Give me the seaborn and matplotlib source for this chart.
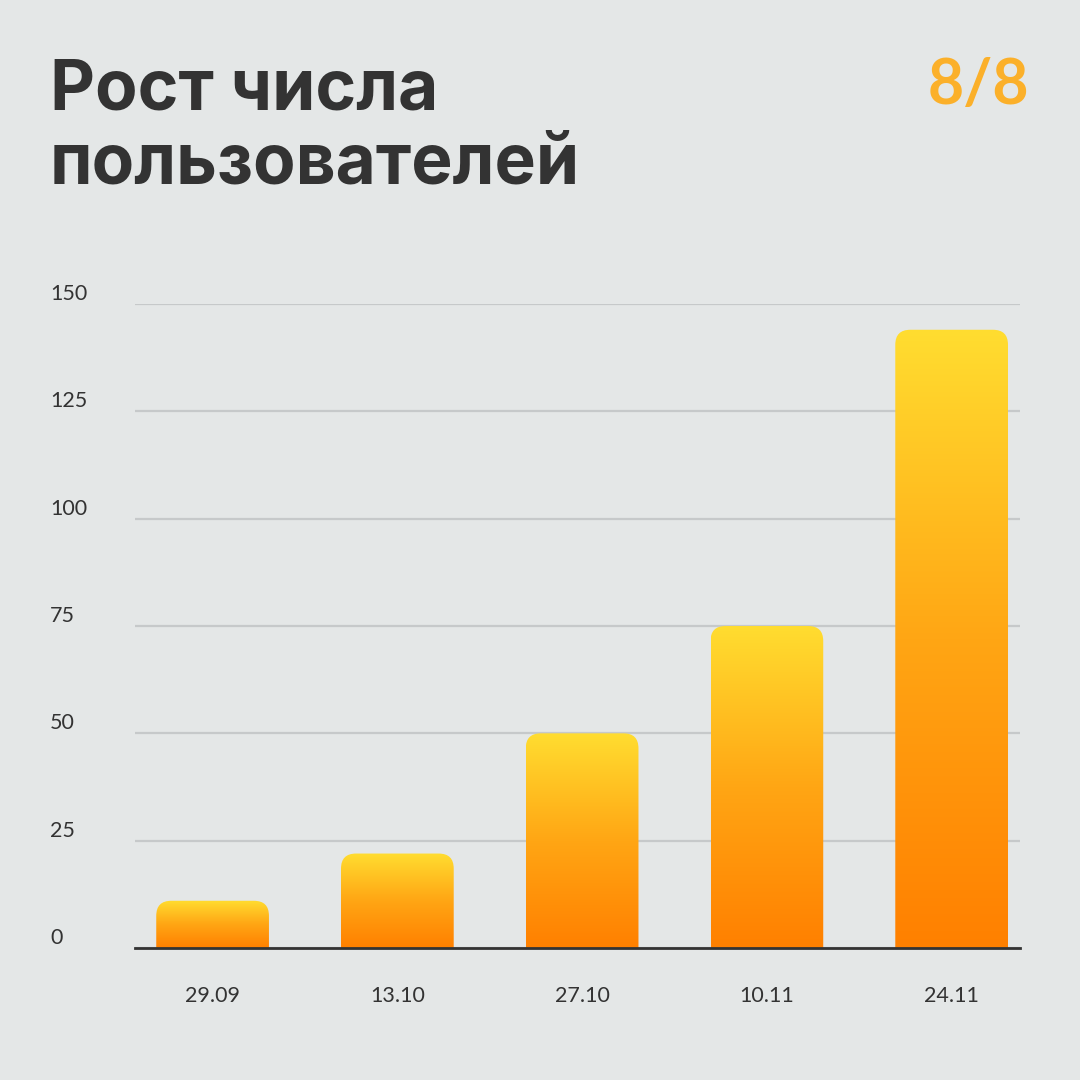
import numpy as np
import matplotlib
matplotlib.use("Agg")
import matplotlib.pyplot as plt
import matplotlib.transforms as mtransforms
from matplotlib.patches import FancyBboxPatch
from matplotlib.colors import LinearSegmentedColormap
import seaborn as sns
import pandas as pd

dates = ["29.09", "13.10", "27.10", "10.11", "24.11"]
users = [11, 22, 50, 75, 144]
yticks = [0, 25, 50, 75, 100, 125, 150]

BG = "#e4e7e7"
TXT = "#333333"

sns.set_theme(style="white")
plt.rcParams["font.family"] = ["Lato", "DejaVu Sans"]

fig = plt.figure(figsize=(10.8, 10.8), dpi=100, facecolor=BG)
ax = fig.add_axes([135/1080, 1 - 948/1080, (1020-135)/1080, (948-304)/1080])
ax.set_facecolor(BG)

df = pd.DataFrame({"date": dates, "users": users})
sns.barplot(data=df, x="date", y="users", ax=ax, width=0.61, color="#ff9000")

ax.set_xlim(-0.42, 4.37)
ax.set_ylim(0, 150)

for s in ["left", "right", "top"]:
    ax.spines[s].set_visible(False)
ax.spines["bottom"].set_color(TXT)
ax.spines["bottom"].set_linewidth(2)
ax.spines["bottom"].set_zorder(5)

ax.set_yticks(yticks)
ax.set_yticklabels([])
ax.grid(axis="y", color="#c6c9ca", linewidth=1.6)
ax.set_axisbelow(True)
ax.set_xlabel("")
ax.set_ylabel("")
ax.tick_params(axis="both", length=0, labelsize=15.5, labelcolor=TXT)
ax.tick_params(axis="x", pad=27)

# y tick labels: left aligned at x=50 px, slightly above gridlines
ytrans = mtransforms.blended_transform_factory(fig.transFigure, ax.transData) + \
    mtransforms.ScaledTranslation(0, 10 / 100, fig.dpi_scale_trans)
for t in yticks:
    ax.text(50 / 1080, t, str(t), transform=ytrans, ha="left", va="center",
            fontsize=15.5, color=TXT, clip_on=False)

fig.canvas.draw()

# gradient bars with rounded tops
cmap = LinearSegmentedColormap.from_list("g", ["#ff8000", "#ffa614", "#ffdd30"])
grad = np.linspace(0, 1, 256).reshape(-1, 1)
xpp = 1 / (ax.transData.transform((1, 0))[0] - ax.transData.transform((0, 0))[0])
ypp = 1 / (ax.transData.transform((0, 1))[1] - ax.transData.transform((0, 0))[1])
r_px = 15
for p in list(ax.patches):
    x0 = p.get_x(); w = p.get_width(); h = p.get_height()
    p.remove()
    rx = r_px * xpp
    aspect = ypp / xpp
    box = FancyBboxPatch((x0, -r_px * ypp * 2), w, h + r_px * ypp * 2,
                         boxstyle=f"round,pad=0,rounding_size={rx}",
                         mutation_aspect=aspect, facecolor="none", edgecolor="none",
                         transform=ax.transData)
    ax.add_patch(box)
    im = ax.imshow(grad, cmap=cmap, aspect="auto", origin="lower",
                   extent=(x0, x0 + w, 0, h), zorder=3, interpolation="bilinear")
    im.set_clip_path(box)
ax.set_xlim(-0.42, 4.37)
ax.set_ylim(0, 150)

# title
tfam = ["Inter", "Roboto", "DejaVu Sans"]
fig.text(50/1080, 1 - 110/1080, "Рост числа", fontsize=50, fontweight="bold",
         color=TXT, family=tfam, va="baseline", ha="left")
fig.text(50/1080, 1 - 183/1080, "пользователей", fontsize=50, fontweight="bold",
         color=TXT, family=tfam, va="baseline", ha="left")
fig.text(1029/1080, 1 - 104/1080, "8/8", fontsize=45, fontweight="bold",
         color="#fbb02a", family=["Lato", "DejaVu Sans"], va="baseline", ha="right")

fig.savefig("out.png", dpi=100, facecolor=BG)
